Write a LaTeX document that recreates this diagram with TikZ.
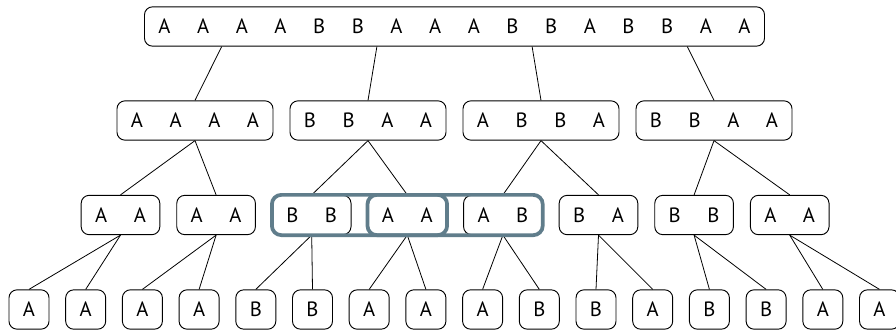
\documentclass[tikz,border=0pt]{standalone}
\usepackage{fontspec}
\setmainfont{PT Sans}
\usetikzlibrary{calc,fit}
\definecolor{bluegrey}{HTML}{607D8B}
% one fixed-width cell per symbol
\newcommand{\cells}[1]{\edef\celltmp{#1}\expandafter\cellloop\celltmp\relax}
\def\cellloop#1{\ifx#1\relax\else\makebox[29pt]{#1}\expandafter\cellloop\fi}

\begin{document}
\begin{tikzpicture}[x=0.75pt, y=-0.75pt, font=\fontsize{15.5}{18}\selectfont,
  seq/.style={draw, line width=0.7pt, rounded corners=6pt, inner xsep=0.5pt,
              inner ysep=0pt, minimum height=29.5pt},
  hl/.style={draw=bluegrey, line width=2.8pt, rounded corners=7pt, inner sep=0pt},
  link/.style={line width=0.6pt},
]
\useasboundingbox (0,0) rectangle (896,329);
\node[seq] (root) at (454.5, 26.5) {\cells{AAAABBAAABBABBAA}};
\foreach \s [count=\i] in {AAAA,BBAA,ABBA,BBAA}
  \node[seq] (quarter\i) at ({195+173*(\i-1)}, 120.5) {\cells{\s}};
\foreach \s [count=\i] in {AA,AA,BB,AA,AB,BA,BB,AA}
  \node[seq] (pair\i) at ({120.5+95.6*(\i-1)}, 215) {\cells{\s}};
\foreach \s [count=\i] in {A,A,A,A,B,B,A,A,A,B,B,A,B,B,A,A}
  \node[seq] (leaf\i) at ({29+56.7*(\i-1)}, 309.5) {\cells{\s}};
% tree edges
\foreach \i in {1,...,4}
  \draw[link] ($(root.south west)!{(2*\i-1)/8}!(root.south east)$) -- (quarter\i.north);
\foreach \q/\a/\b in {1/1/2, 2/3/4, 3/5/6, 4/7/8} {
  \draw[link] (quarter\q.south) -- (pair\a.north);
  \draw[link] (quarter\q.south) -- (pair\b.north);
}
\foreach \p [evaluate=\p as \a using int(2*\p-1),
             evaluate=\p as \b using int(2*\p)] in {1,...,8} {
  \draw[link] (pair\p.south) -- (leaf\a.north);
  \draw[link] (pair\p.south) -- (leaf\b.north);
}
% highlighted window
\node[hl, fit=(pair3)(pair5)] (window) {};
\node[hl, fit=(pair4)] (focus) {};
\end{tikzpicture}
\end{document}
